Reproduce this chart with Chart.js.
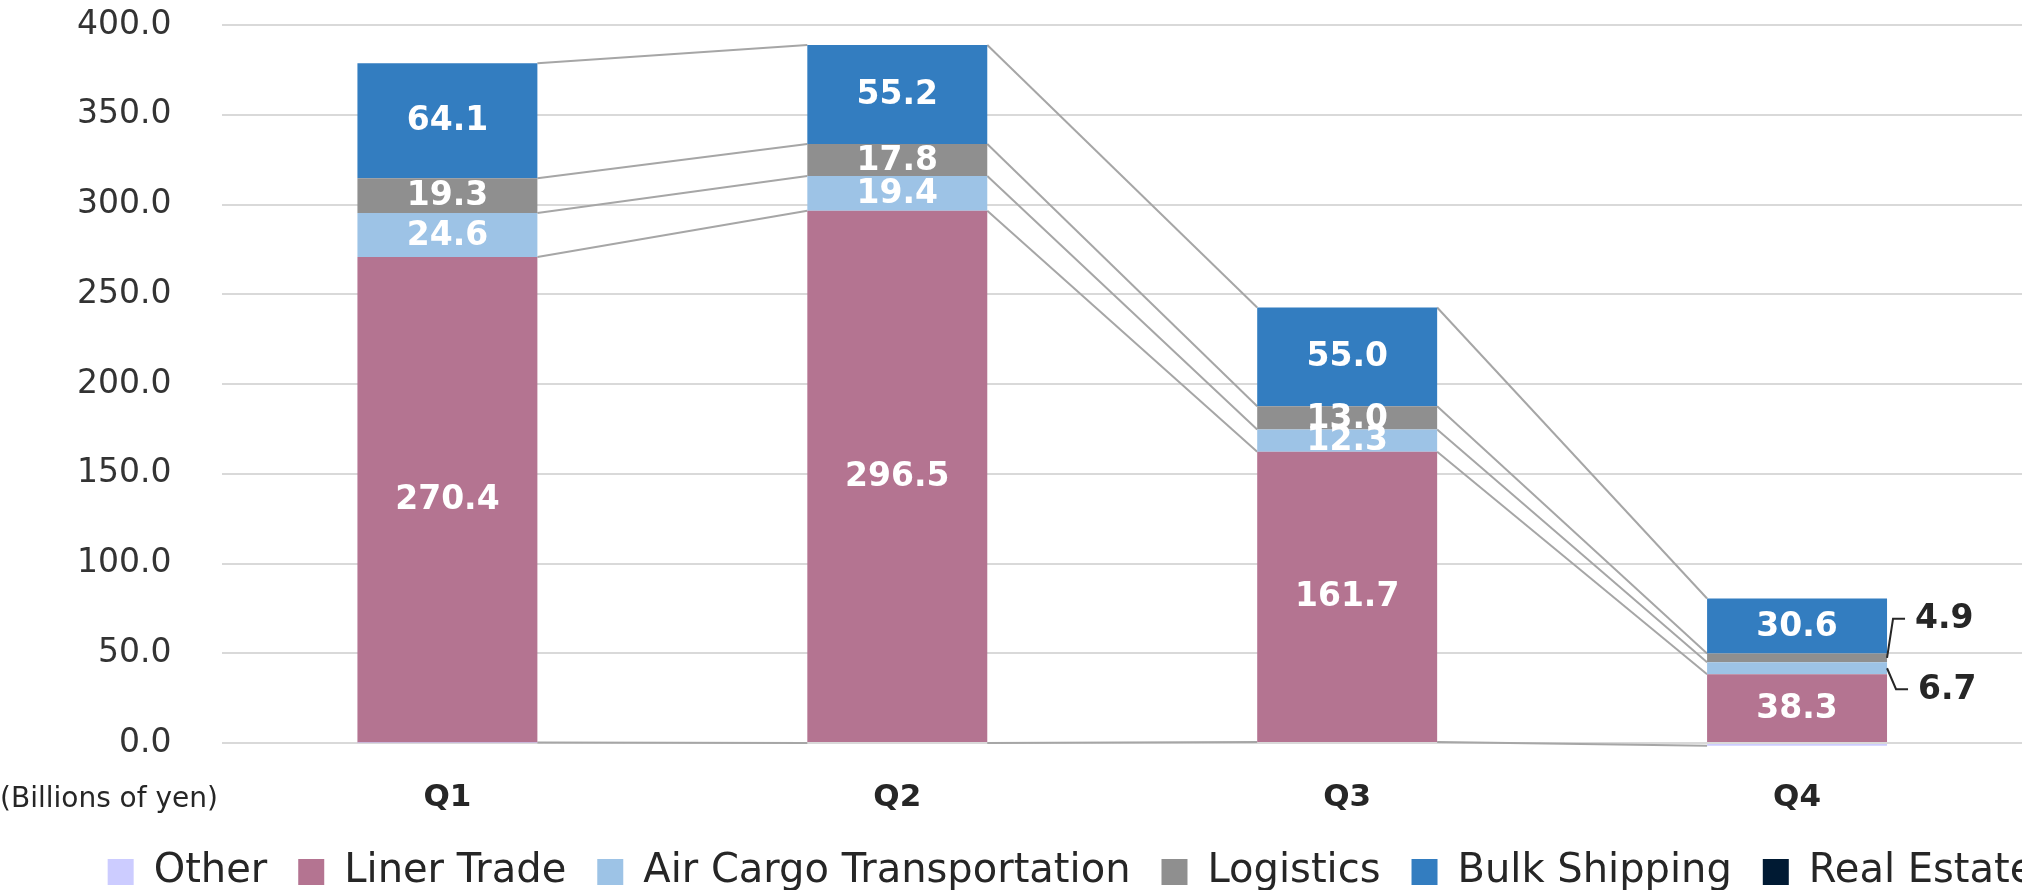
<!DOCTYPE html>
<html>
<head>
<meta charset="utf-8">
<script src="https://cdn.jsdelivr.net/npm/chart.js@4.4.1/dist/chart.umd.min.js"></script>
<style>
  body { margin: 0; background: #fff; }
</style>
</head>
<body>
<canvas id="monGraphique" width="2022" height="890"></canvas>
<script>
// --- DONNÉES (milliards de yens) ---
const trimestres = ['Q1', 'Q2', 'Q3', 'Q4'];
const autres = [0.3, 0, 0.6, -1.5];
const linerTrade = [270.4, 296.5, 161.7, 38.3];
const airCargo = [24.6, 19.4, 12.3, 6.7];
const logistique = [19.3, 17.8, 13.0, 4.9];
const vracSec = [64.1, 55.2, 55.0, 30.6];
const immobilier = [0, 0, 0, 0];
const ticksY = [0, 50, 100, 150, 200, 250, 300, 350, 400];

const couleurTexte = '#262626';
const police = "'DejaVu Sans', Verdana, sans-serif";

// Lignes grises qui relient le haut de chaque segment d'une barre à l'autre
const lignesSerie = {
    id: 'lignesSerie',
    beforeDatasetsDraw(chart) {
        const ctx = chart.ctx;
        ctx.save();
        ctx.strokeStyle = '#a6a6a6';
        ctx.lineWidth = 2;
        chart.data.datasets.forEach((ds, d) => {
            // pas de ligne pour une série vide (Real Estate)
            if (ds.data.every(v => v === 0)) return;
            const barres = chart.getDatasetMeta(d).data;
            for (let i = 0; i < barres.length - 1; i++) {
                const a = barres[i], b = barres[i + 1];
                ctx.beginPath();
                ctx.moveTo(a.x + a.width / 2, a.y);
                ctx.lineTo(b.x - b.width / 2, b.y);
                ctx.stroke();
            }
        });
        ctx.restore();
    }
};

// Étiquettes de valeurs (blanches dans la barre, noires à droite si trop petit)
const etiquettes = {
    id: 'etiquettes',
    afterLayout(chart) {
        // la légende de l'original est un peu décalée vers la droite
        chart.legend.left += 47;
        chart.legend.right += 47;
    },
    afterDatasetsDraw(chart) {
        const ctx = chart.ctx;
        ctx.save();
        ctx.font = "bold 33px " + police;
        ctx.textBaseline = 'middle';
        [1, 2, 3, 4].forEach(d => {
            const barres = chart.getDatasetMeta(d).data;
            barres.forEach((el, i) => {
                const v = chart.data.datasets[d].data[i];
                const h = Math.abs(el.base - el.y);
                const yc = (el.y + el.base) / 2;
                if (h >= 15) {
                    ctx.fillStyle = '#ffffff';
                    ctx.textAlign = 'center';
                    ctx.fillText(v.toFixed(1), el.x, yc + 1);
                } else {
                    // petit segment : texte à l'extérieur avec un trait
                    const xd = el.x + el.width / 2;
                    const yt = d === 3 ? yc - 39 : yc + 21;
                    const dx = d === 3 ? 6 : 9;
                    ctx.strokeStyle = couleurTexte;
                    ctx.lineWidth = 2;
                    ctx.beginPath();
                    ctx.moveTo(xd, yc);
                    ctx.lineTo(xd + dx, yt);
                    ctx.lineTo(xd + dx + 12, yt);
                    ctx.stroke();
                    ctx.fillStyle = couleurTexte;
                    ctx.textAlign = 'left';
                    ctx.fillText(v.toFixed(1), xd + dx + 22, yt + 1);
                }
            });
        });
        // unité sous l'axe des Y
        ctx.font = "28px " + police;
        ctx.fillStyle = couleurTexte;
        ctx.textAlign = 'left';
        ctx.fillText('(Billions of yen)', 0, 800);
        ctx.restore();
    }
};

const ctx = document.getElementById('monGraphique').getContext('2d');

new Chart(ctx, {
    type: 'bar',
    data: {
        labels: trimestres,
        datasets: [
            { label: 'Other', data: autres, backgroundColor: '#ccccff' },
            { label: 'Liner Trade', data: linerTrade, backgroundColor: '#b47491' },
            { label: 'Air Cargo Transportation', data: airCargo, backgroundColor: '#9dc3e6' },
            { label: 'Logistics', data: logistique, backgroundColor: '#8f8f8f' },
            { label: 'Bulk Shipping', data: vracSec, backgroundColor: '#337dc0' },
            { label: 'Real Estate', data: immobilier, backgroundColor: '#001a33' }
        ].map(ds => Object.assign(ds, {
            categoryPercentage: 1,
            barPercentage: 0.4,
            borderWidth: 0,
            clip: false
        }))
    },
    options: {
        responsive: false,
        animation: false,
        devicePixelRatio: 1,
        layout: { padding: { left: 26, top: 0, right: 0, bottom: -12 } },
        scales: {
            x: {
                stacked: true,
                afterFit: axe => { axe.height = 78; },
                grid: { display: false, drawTicks: false },
                border: { display: false },
                ticks: {
                    color: couleurTexte,
                    padding: 36,
                    font: { family: police, size: 31, weight: 'bold' }
                }
            },
            y: {
                stacked: true,
                min: 0,
                max: 400,
                afterBuildTicks: axe => { axe.ticks = ticksY.map(v => ({ value: v })); },
                // on garde le haut du graphique près du bord
                afterFit: axe => { axe.paddingTop = 25; axe.paddingBottom = 0; },
                grid: { color: '#d9d9d9', lineWidth: 2, drawTicks: false },
                border: { display: false },
                ticks: {
                    color: '#333333',
                    padding: 51,
                    font: { family: police, size: 33 },
                    callback: v => Number(v).toFixed(1)
                }
            }
        },
        plugins: {
            legend: {
                position: 'bottom',
                labels: {
                    color: couleurTexte,
                    boxWidth: 26,
                    boxHeight: 26,
                    padding: 31,
                    font: { family: police, size: 40 }
                }
            },
            tooltip: { enabled: false }
        }
    },
    plugins: [lignesSerie, etiquettes]
});
</script>
</body>
</html>
